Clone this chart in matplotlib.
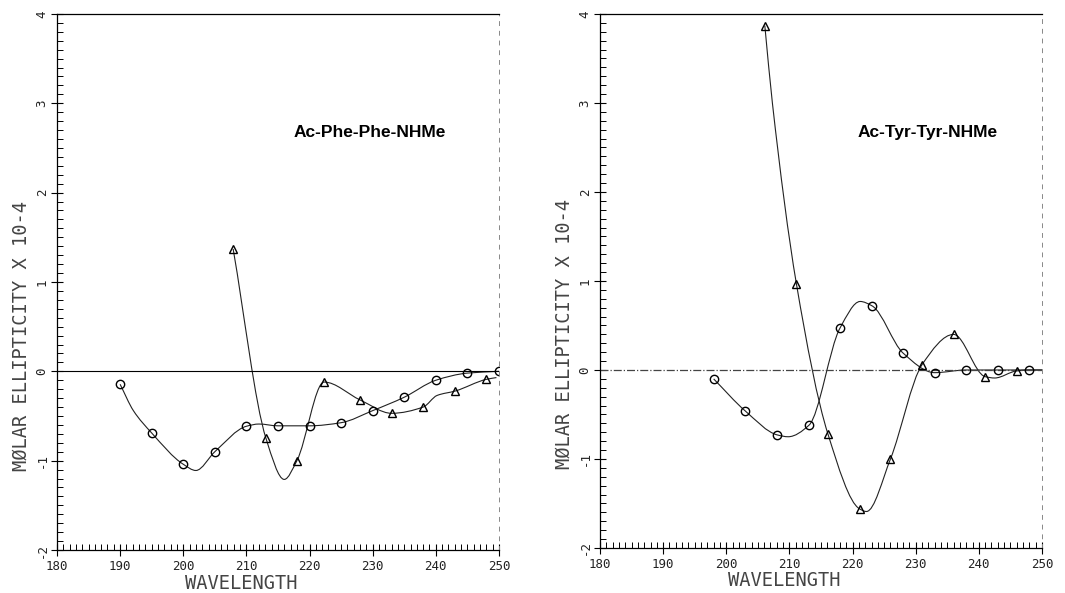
import numpy as np
import matplotlib
matplotlib.use('Agg')
import matplotlib.pyplot as plt
from matplotlib.path import Path
from matplotlib.patches import PathPatch
from matplotlib.ticker import MultipleLocator

plt.rcParams['axes.unicode_minus'] = False

### Data ###
# Ac-Phe-Phe-NHMe
phe_circ_x = [190, 195, 200, 205, 210, 215, 220, 225, 230, 235, 240, 245, 250]
phe_circ_y = [-0.145, -0.69, -1.04, -0.90, -0.615, -0.61, -0.61, -0.575, -0.44, -0.29, -0.10, -0.02, 0.0]
phe_circ_curve_x = [190, 192.1, 195, 200, 202, 205, 210, 212, 215, 220, 225, 230, 235, 240, 245, 250]
phe_circ_curve_y = [-0.145, -0.44, -0.69, -1.04, -1.11, -0.90, -0.615, -0.59, -0.61, -0.61, -0.575, -0.44, -0.29, -0.10, -0.02, 0.0]

phe_tri_x = [207.9, 213.1, 218.0, 222.3, 228.0, 233.0, 238.0, 243.1, 248.0]
phe_tri_y = [1.37, -0.75, -1.0, -0.12, -0.32, -0.47, -0.40, -0.22, -0.09]
phe_tri_curve_x = [207.9, 213.1, 216.0, 218.0, 222.3, 228.0, 233.0, 238.0, 240.2, 243.1, 248.0, 249.6]
phe_tri_curve_y = [1.37, -0.75, -1.21, -1.0, -0.12, -0.32, -0.47, -0.40, -0.27, -0.22, -0.09, -0.07]

# Ac-Tyr-Tyr-NHMe
tyr_circ_x = [198.0, 203.0, 208.1, 213.1, 218.0, 223.1, 228.0, 233.0, 238.0, 243.0, 248.0]
tyr_circ_y = [-0.10, -0.46, -0.73, -0.62, 0.47, 0.72, 0.19, -0.03, 0.0, 0.0, 0.0]
tyr_circ_curve_x = [198.0, 203.0, 208.1, 209.8, 213.1, 218.0, 221.2, 223.1, 228.0, 233.0, 238.0, 243.0, 248.0, 250.0]
tyr_circ_curve_y = [-0.10, -0.46, -0.73, -0.75, -0.62, 0.47, 0.77, 0.72, 0.19, -0.03, 0.0, 0.0, 0.0, 0.0]

tyr_tri_x = [206.1, 211.1, 216.1, 221.1, 226.0, 231.0, 236.0, 241.0, 246.0]
tyr_tri_y = [3.87, 0.97, -0.72, -1.56, -1.0, 0.06, 0.40, -0.075, -0.01]
tyr_tri_curve_x = [206.1, 207.3, 211.1, 216.1, 221.1, 222.2, 226.0, 231.0, 236.0, 241.0, 242.5, 246.0, 248.0, 250.0]
tyr_tri_curve_y = [3.87, 3.0, 0.97, -0.72, -1.56, -1.59, -1.0, 0.06, 0.40, -0.075, -0.09, -0.01, 0.0, 0.0]

titles = ['Ac-Phe-Phe-NHMe', 'Ac-Tyr-Tyr-NHMe']
title_x = [217.4, 220.8]
title_y = 2.62


def smooth_path(xs, ys):
    # smooth monotone (pchip-like) curve through the points, as Bezier segments
    x = np.asarray(xs, float)
    y = np.asarray(ys, float)
    n = len(x)
    h = np.diff(x)
    d = np.diff(y) / h
    s = np.zeros(n)
    for i in range(1, n - 1):
        if d[i - 1] * d[i] > 0:
            w1 = 2 * h[i] + h[i - 1]
            w2 = h[i] + 2 * h[i - 1]
            s[i] = (w1 + w2) / (w1 / d[i - 1] + w2 / d[i])
    s[0] = d[0]
    s[-1] = d[-1]
    verts = [(x[0], y[0])]
    codes = [Path.MOVETO]
    for i in range(n - 1):
        verts += [(x[i] + h[i] / 3, y[i] + s[i] * h[i] / 3),
                  (x[i + 1] - h[i] / 3, y[i + 1] - s[i + 1] * h[i] / 3),
                  (x[i + 1], y[i + 1])]
        codes += [Path.CURVE4] * 3
    return Path(verts, codes)


fig = plt.figure(figsize=(10.65, 5.93), dpi=100)
ax1 = fig.add_axes([0.0535, 0.0725, 0.415, 0.904])
ax2 = fig.add_axes([0.5634, 0.0759, 0.415, 0.9005])

series = [
    (phe_circ_x, phe_circ_y, phe_circ_curve_x, phe_circ_curve_y, phe_tri_x, phe_tri_y, phe_tri_curve_x, phe_tri_curve_y),
    (tyr_circ_x, tyr_circ_y, tyr_circ_curve_x, tyr_circ_curve_y, tyr_tri_x, tyr_tri_y, tyr_tri_curve_x, tyr_tri_curve_y),
]

for k, ax in enumerate([ax1, ax2]):
    cx, cy, ccx, ccy, tx, ty, tcx, tcy = series[k]
    ax.set_xlim(180, 250)
    ax.set_ylim(-2, 4)

    # zero line
    if k == 0:
        ax.axhline(0, color='black', lw=0.8)
    else:
        ax.axhline(0, color='#444444', lw=0.9, ls='-.')

    ax.add_patch(PathPatch(smooth_path(ccx, ccy), fill=False, lw=0.8, ec='#222222'))
    ax.add_patch(PathPatch(smooth_path(tcx, tcy), fill=False, lw=0.8, ec='#222222'))
    ax.plot(cx, cy, 'o', ms=6, mfc='none', mec='black', mew=1.0)
    ax.plot(tx, ty, '^', ms=5.5, mfc='none', mec='black', mew=1.0)

    ax.text(title_x[k], title_y, titles[k], fontsize=12.5, fontweight='bold',
            family='Liberation Sans')

    ax.xaxis.set_major_locator(MultipleLocator(10))
    ax.xaxis.set_minor_locator(MultipleLocator(1))
    ax.yaxis.set_major_locator(MultipleLocator(1))
    ax.yaxis.set_minor_locator(MultipleLocator(0.1))
    ax.tick_params(which='major', direction='inout', length=8, width=0.8, labelsize=9)
    ax.tick_params(which='minor', direction='in', length=4, width=0.7)
    ax.tick_params(axis='y', labelrotation=90, pad=2)
    ax.tick_params(axis='x', pad=3)
    for lab in ax.get_yticklabels() + ax.get_xticklabels():
        lab.set_family('DejaVu Sans Mono')
        lab.set_color('#222222')
    for lab in ax.get_yticklabels():
        lab.set_va('center')

    ax.spines['right'].set_linestyle((0, (4, 6)))
    ax.spines['right'].set_color('#888888')
    ax.spines['right'].set_linewidth(0.7)
    for s in ['left', 'bottom', 'top']:
        ax.spines[s].set_linewidth(0.9)

    ax.set_xlabel('WAVELENGTH', fontsize=13.5, color='#444444', family='DejaVu Sans Mono')
    ax.xaxis.set_label_coords(0.416, -0.044)
    ax.set_ylabel('MØLAR ELLIPTICITY X 10-4', fontsize=13.5, color='#444444',
                  family='DejaVu Sans Mono')
    ax.yaxis.set_label_coords(-0.06, 0.40)

fig.savefig('out.png', dpi=100)
